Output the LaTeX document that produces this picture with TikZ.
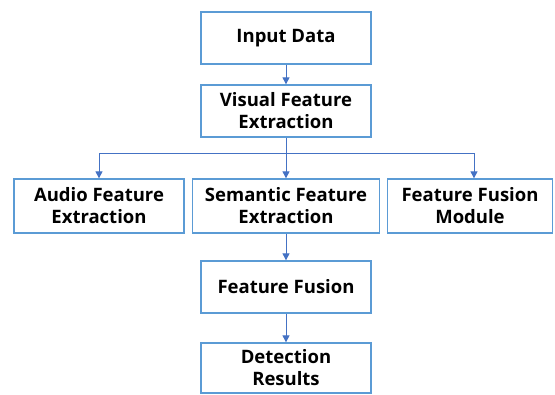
\documentclass[tikz,border=0pt]{standalone}
\usepackage{fontspec}
\setmainfont{Open Sans}
\usetikzlibrary{arrows.meta}
\definecolor{boxline}{RGB}{91,155,213}
\definecolor{arrowline}{RGB}{68,114,196}
\begin{document}
\begin{tikzpicture}[x=1pt,y=-1pt,
  box/.style={draw=boxline,line width=1.3pt,fill=white,inner sep=0pt,
    font=\bfseries\fontsize{18.5}{22}\selectfont,align=center},
  arr/.style={draw=arrowline,line width=1pt,-{Triangle[length=7pt,width=7pt]}}]
\useasboundingbox (0,0) rectangle (555,395);
\node[box,minimum width=170pt,minimum height=52pt] (in) at (286,38) {Input Data};
\node[box,minimum width=170pt,minimum height=52pt] (vis) at (286,111) {Visual Feature\\Extraction};
\node[box,minimum width=170pt,minimum height=54pt] (aud) at (99,206) {Audio Feature\\Extraction};
\node[box,minimum width=187pt,minimum height=54pt] (sem) at (286,206) {Semantic Feature\\Extraction};
\node[box,minimum width=165pt,minimum height=54pt] (ffm) at (470,206) {Feature Fusion\\Module};
\node[box,minimum width=170pt,minimum height=52pt] (ff) at (286,287) {Feature Fusion};
\node[box,minimum width=170pt,minimum height=50pt] (det) at (286,368) {Detection\\Results};
\coordinate (split) at (286,154);
\draw[arr] (in) -- (vis);
\draw[arr] (vis) -- (sem);
\draw[arr] (split) -| (aud.north);
\draw[arr] (split) -| ([xshift=4pt]ffm.north);
\draw[arr] (sem) -- (ff);
\draw[arr] (ff) -- (det);
\end{tikzpicture}
\end{document}
